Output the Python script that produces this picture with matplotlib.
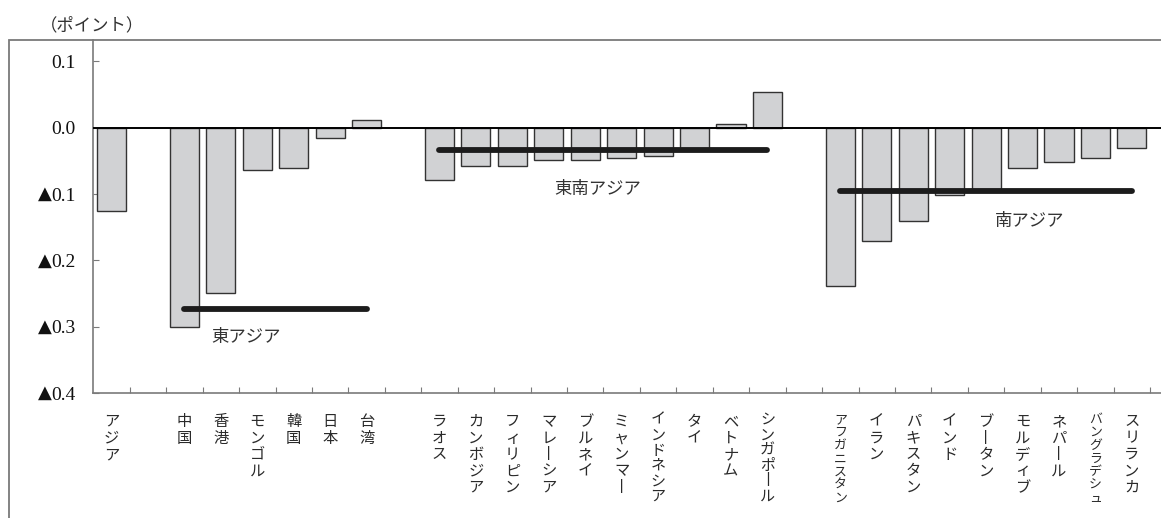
import matplotlib
matplotlib.use("Agg")
import matplotlib.pyplot as plt  # noqa: E402
from matplotlib.patches import Rectangle  # noqa: E402
from matplotlib.transforms import blended_transform_factory  # noqa: E402

plt.rcParams["font.family"] = ["Noto Sans CJK JP", "DejaVu Sans"]

# Asia-wide bar, then three regional groups (each followed by a blank slot)
ASIA_LABEL = "アジア"
ASIA_VALUE = -0.126

EAST = ["中国", "香港", "モンゴル", "韓国", "日本", "台湾"]
EAST_VALS = [-0.301, -0.249, -0.064, -0.061, -0.015, 0.012]

SOUTHEAST = ["ラオス", "カンボジア", "フィリピン", "マレーシア", "ブルネイ",
             "ミャンマー", "インドネシア", "タイ", "ベトナム", "シンガポール"]
SOUTHEAST_VALS = [-0.079, -0.057, -0.057, -0.049, -0.049, -0.046, -0.043,
                  -0.034, 0.006, 0.054]

SOUTH = ["アフガニスタン", "イラン", "パキスタン", "インド", "ブータン",
         "モルディブ", "ネパール", "バングラデシュ", "スリランカ"]
SOUTH_VALS = [-0.239, -0.171, -0.140, -0.102, -0.092, -0.060, -0.052,
              -0.046, -0.031]

GROUP_NAMES = ["東アジア", "東南アジア", "南アジア"]
GROUP_MEANS = [-0.273, -0.033, -0.096]

YTICKS = [0.1, 0.0, -0.1, -0.2, -0.3, -0.4]
YTICK_LABELS = ["0.1", "0.0", "▲0.1", "▲0.2", "▲0.3", "▲0.4"]

BAR_FILL = "#d1d2d4"
BAR_EDGE = "#333333"
FRAME = "#7a7a7a"
SERIF = ["Liberation Serif", "DejaVu Sans"]

# slot layout: Asia at 0, gap, East, gap, Southeast, gap, South
labels = [ASIA_LABEL]
values = [ASIA_VALUE]
positions = [0]
group_pos = []
pos = 2
for names, vals in [(EAST, EAST_VALS), (SOUTHEAST, SOUTHEAST_VALS), (SOUTH, SOUTH_VALS)]:
    gp = list(range(pos, pos + len(names)))
    group_pos.append(gp)
    labels += names
    values += vals
    positions += gp
    pos += len(names) + 1
n_slots = positions[-1] + 1

W, H = 1161, 518
PX = 72 / 100  # points per pixel at dpi 100
fig = plt.figure(figsize=(W / 100, H / 100), dpi=100)

# outer frame (runs off the right and bottom edges)
fig.patches.append(Rectangle((9 / W, -0.05), 1.2, 1 - 40 / H + 0.05,
                             transform=fig.transFigure, fill=False,
                             edgecolor=FRAME, linewidth=1.3))
fig.text(92 / W, 1 - 25 / H, "（ポイント）", ha="center", va="center",
         fontsize=12.5, color="#333333")

ax = fig.add_axes([93.3 / W, 1 - 393 / H, 1 - 93.3 / W, (393 - 40) / H])
ax.bar(positions, values, width=0.8, color=BAR_FILL, edgecolor=BAR_EDGE,
       linewidth=1.0, zorder=2)
ax.axhline(0, color="black", linewidth=1.4, zorder=3)

# regional averages as thick rounded bars
for mean, gp in zip(GROUP_MEANS, group_pos):
    ax.plot([gp[0], gp[-1]], [mean, mean], color="#1c1c1c", linewidth=4.2,
            solid_capstyle="round", zorder=4)

label_xy = [(3.68, -0.316), (13.35, -0.092), (25.2, -0.140)]
for name, (lx, ly) in zip(GROUP_NAMES, label_xy):
    ax.text(lx, ly, name, ha="center", va="center", fontsize=12.5, color="#333333")

ax.set_xlim(-0.5, (W - 93.3) / 36.44 - 0.5)
ax.set_ylim(-0.4, 0.1324)

# numbers as tick labels; the ▲ (minus) sign drawn separately in a bolder glyph
ax.set_yticks(YTICKS)
ax.set_yticklabels([s.lstrip("▲") for s in YTICK_LABELS], fontsize=14, color="#111111")
for t in ax.get_yticklabels():
    t.set_fontfamily(SERIF)
ax.tick_params(axis="y", direction="in", length=4, width=0.8, color=FRAME, pad=13)
ytrans = blended_transform_factory(fig.transFigure, ax.transData)
for y, s in zip(YTICKS, YTICK_LABELS):
    if s.startswith("▲"):
        fig.text(51.5 / W, y, "▲", transform=ytrans, ha="right", va="center",
                 fontsize=13, family="DejaVu Sans", color="#111111")

ax.set_xticks([p + 0.5 for p in range(n_slots)])
ax.set_xticklabels([])
ax.tick_params(axis="x", direction="in", length=4, width=0.8, color=FRAME)

for side in ("top", "right"):
    ax.spines[side].set_visible(False)
for side in ("left", "bottom"):
    ax.spines[side].set_color(FRAME)
    ax.spines[side].set_linewidth(1.2)

# vertical (tategaki) category labels, one glyph per line; long names are squeezed
xform = ax.get_xaxis_transform()
for p, lab in zip(positions, labels):
    chars = lab.replace("ー", "丨")
    pitch = min(16.5, 92 / len(chars))
    size = min(11.0, pitch * PX * 0.98)
    for j, ch in enumerate(chars):
        ax.annotate(ch, xy=(p, 0), xycoords=xform,
                    xytext=(0, -(20 + j * pitch) * PX),
                    textcoords="offset points", ha="center", va="top",
                    fontsize=size, color="#2a2a2a", annotation_clip=False)

fig.savefig("out.png", dpi=100)
